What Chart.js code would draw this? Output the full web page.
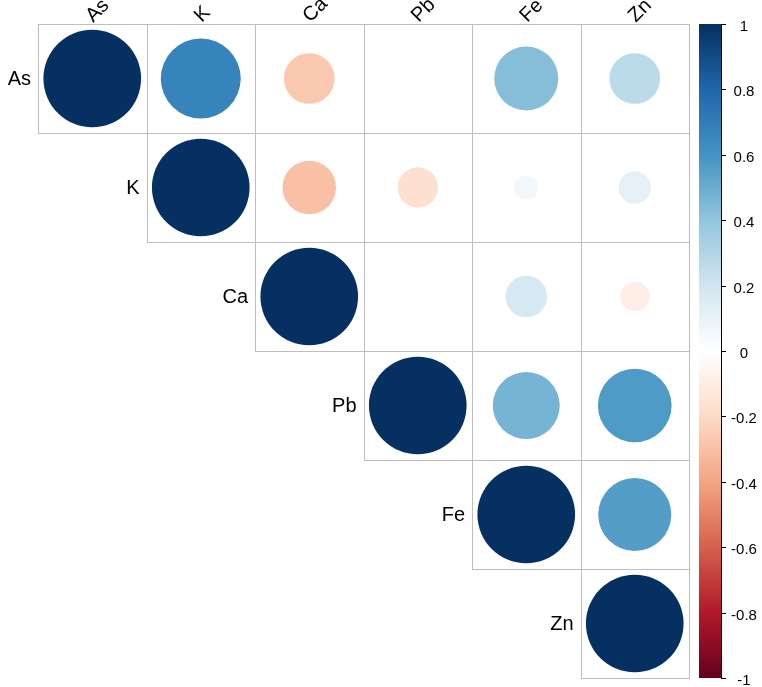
<!DOCTYPE html>
<html>
<head>
<meta charset="utf-8">
<script src="https://cdn.jsdelivr.net/npm/chart.js@4/dist/chart.umd.min.js"></script>
<style>
  body { margin: 0; background: #fff; }
  #wrap { width: 762px; height: 687px; }
</style>
</head>
<body>
<div id="wrap"><canvas id="corrChart" width="762" height="687"></canvas></div>
<script>
// variables and correlation rows (upper triangle is drawn)
const elements = ['As', 'K', 'Ca', 'Pb', 'Fe', 'Zn'];
const rowAs = [1, 0.67, -0.27, 0, 0.43, 0.27];
const rowK  = [0.67, 1, -0.30, -0.17, 0.06, 0.11];
const rowCa = [-0.27, -0.30, 1, 0, 0.18, -0.09];
const rowPb = [0, -0.17, 0, 1, 0.47, 0.57];
const rowFe = [0.43, 0.06, 0.18, 0.47, 1, 0.56];
const rowZn = [0.27, 0.11, -0.09, 0.57, 0.56, 1];
const colorbarTicks = [-1, -0.8, -0.6, -0.4, -0.2, 0, 0.2, 0.4, 0.6, 0.8, 1];
const colorbarLabels = ['-1', '-0.8', '-0.6', '-0.4', '-0.2', '0', '0.2', '0.4', '0.6', '0.8', '1'];

// RdBu palette stops, -1 .. 1
const palette = ['#67001F', '#B2182B', '#D6604D', '#F4A582', '#FDDBC7', '#FFFFFF',
                 '#D1E5F0', '#92C5DE', '#4393C3', '#2166AC', '#053061'];

function hexToRgb(h) {
    return [parseInt(h.slice(1, 3), 16), parseInt(h.slice(3, 5), 16), parseInt(h.slice(5, 7), 16)];
}

function corrColor(v) {
    const pos = (v + 1) / 2 * (palette.length - 1);
    const i = Math.min(Math.floor(pos), palette.length - 2);
    const t = pos - i;
    const a = hexToRgb(palette[i]), b = hexToRgb(palette[i + 1]);
    const c = a.map((x, k) => Math.round(x + (b[k] - x) * t));
    return `rgb(${c[0]}, ${c[1]}, ${c[2]})`;
}

const matrix = [rowAs, rowK, rowCa, rowPb, rowFe, rowZn];
const points = [];
matrix.forEach((row, i) => {
    row.forEach((v, j) => {
        if (j >= i) points.push({ x: j + 1, y: i + 1, v: v });
    });
});

const FONT = '"Liberation Sans", Arial, sans-serif';

function cellSize(chart) {
    const xs = chart.scales.x, ys = chart.scales.y;
    if (!xs || !ys) return 0;
    const s = Math.min(Math.abs(xs.getPixelForValue(2) - xs.getPixelForValue(1)),
                       Math.abs(ys.getPixelForValue(2) - ys.getPixelForValue(1)));
    return isFinite(s) ? s : 0;
}

const gridAndLabels = {
    id: 'gridAndLabels',
    beforeDatasetsDraw(chart) {
        const ctx = chart.ctx, xs = chart.scales.x, ys = chart.scales.y;
        ctx.save();
        ctx.strokeStyle = '#BEBEBE';
        ctx.lineWidth = 1;
        for (let i = 1; i <= elements.length; i++) {
            for (let j = i; j <= elements.length; j++) {
                const x0 = Math.round(xs.getPixelForValue(j - 0.5)) + 0.5;
                const x1 = Math.round(xs.getPixelForValue(j + 0.5)) + 0.5;
                const y0 = Math.round(ys.getPixelForValue(i - 0.5)) + 0.5;
                const y1 = Math.round(ys.getPixelForValue(i + 0.5)) + 0.5;
                ctx.strokeRect(x0, y0, x1 - x0, y1 - y0);
            }
        }
        ctx.restore();
    },
    afterDraw(chart) {
        const ctx = chart.ctx, xs = chart.scales.x, ys = chart.scales.y, cb = chart.scales.cb;
        ctx.save();
        ctx.fillStyle = '#000';
        ctx.font = '20px ' + FONT;

        // row labels, left of the diagonal
        ctx.textAlign = 'right';
        ctx.textBaseline = 'middle';
        elements.forEach((name, i) => {
            ctx.fillText(name, xs.getPixelForValue(i + 0.5) - 7, ys.getPixelForValue(i + 1) + 1);
        });

        // column labels along the top, rotated
        elements.forEach((name, j) => {
            ctx.save();
            ctx.translate(xs.getPixelForValue(j + 1) + 1, ys.getPixelForValue(0.5) - 1);
            ctx.rotate(-Math.PI / 4);
            ctx.textAlign = 'left';
            ctx.textBaseline = 'alphabetic';
            ctx.fillText(name, 0, 0);
            ctx.restore();
        });

        // colour bar
        const barL = 699, barR = 721;
        const top = cb.getPixelForValue(1), bottom = cb.getPixelForValue(-1);
        const grad = ctx.createLinearGradient(0, bottom, 0, top);
        palette.forEach((c, k) => grad.addColorStop(k / (palette.length - 1), c));
        ctx.fillStyle = grad;
        ctx.fillRect(barL, top, barR - barL, bottom - top);
        ctx.strokeStyle = '#000';
        ctx.lineWidth = 1;
        ctx.beginPath();
        ctx.moveTo(barR + 0.5, top);
        ctx.lineTo(barR + 0.5, bottom);
        ctx.stroke();

        ctx.font = '15px ' + FONT;
        ctx.textAlign = 'center';
        ctx.textBaseline = 'middle';
        ctx.fillStyle = '#000';
        colorbarTicks.forEach((v, k) => {
            const y = Math.round(cb.getPixelForValue(v)) + 0.5;
            ctx.beginPath();
            ctx.moveTo(barR, y);
            ctx.lineTo(barR + 5, y);
            ctx.stroke();
            ctx.fillText(colorbarLabels[k], 744, y + 2);
        });
        ctx.restore();
    }
};

new Chart(document.getElementById('corrChart').getContext('2d'), {
    type: 'scatter',
    data: {
        datasets: [{
            data: points,
            pointBackgroundColor: c => (c.raw ? corrColor(c.raw.v) : '#fff'),
            pointBorderWidth: 0,
            pointBorderColor: 'rgba(0,0,0,0)',
            pointRadius: c => (c.raw ? 0.45 * Math.sqrt(Math.abs(c.raw.v)) * cellSize(c.chart) : 0),
            pointHoverRadius: c => (c.raw ? 0.45 * Math.sqrt(Math.abs(c.raw.v)) * cellSize(c.chart) : 0),
            clip: false
        }]
    },
    options: {
        responsive: false,
        animation: false,
        events: [],
        layout: { padding: { left: 38, right: 73, top: 24, bottom: 9 } },
        scales: {
            x: { type: 'linear', min: 0.5, max: 6.5, display: false },
            y: { type: 'linear', min: 0.5, max: 6.5, reverse: true, display: false },
            cb: { type: 'linear', axis: 'y', min: -1, max: 1, display: false }
        },
        plugins: {
            legend: { display: false },
            tooltip: { enabled: false }
        }
    },
    plugins: [gridAndLabels]
});
</script>
</body>
</html>
